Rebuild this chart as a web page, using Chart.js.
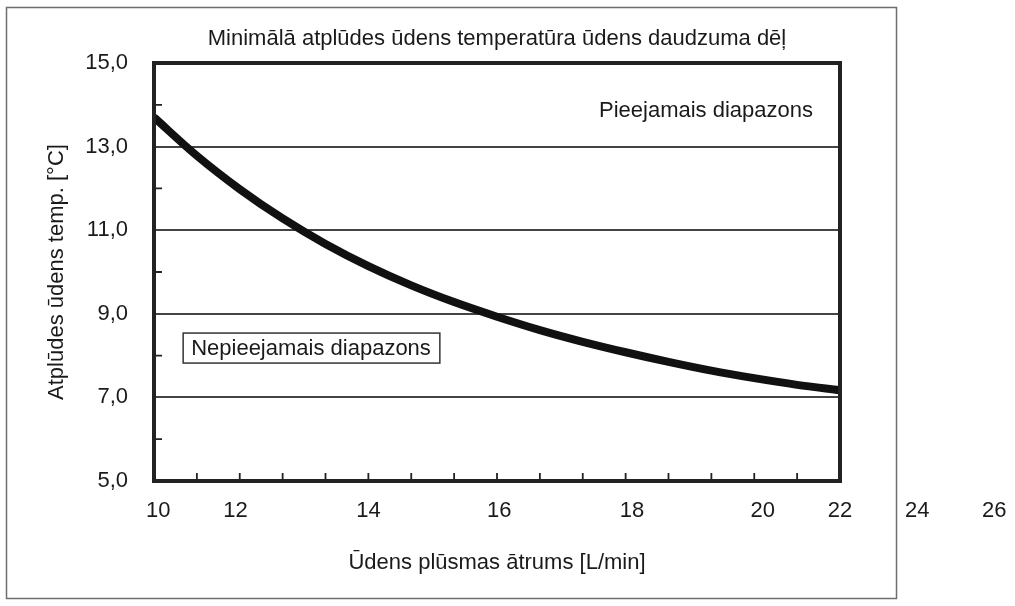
<!DOCTYPE html>
<html>
<head>
<meta charset="utf-8">
<title>Minimālā atplūdes ūdens temperatūra</title>
<script src="https://cdn.jsdelivr.net/npm/chart.js@4.4.0/dist/chart.umd.min.js"></script>
<style>
  html, body { margin: 0; padding: 0; background: #ffffff; }
  #wrap { width: 1015px; height: 606px; }
</style>
</head>
<body>
<div id="wrap"><canvas id="grafiks" width="1015" height="606"></canvas></div>
<script>
// ūdens plūsma [L/min] un minimālā atplūdes temperatūra [°C]
var plusma = [10, 11, 12, 13, 14, 15, 16, 17, 18, 19, 20, 21, 22, 23, 24, 25, 26];
var temperatura = [13.70, 12.78, 11.98, 11.28, 10.67, 10.14, 9.68, 9.28, 8.93, 8.61, 8.33, 8.08, 7.85, 7.64, 7.46, 7.30, 7.17];

// x ass: uzraksti un vietas uz ass (oriģinālā tie ir nobīdīti)
var xUzraksti = ['10', '12', '14', '16', '18', '20', '22', '24', '26'];
var xUzrakstuVietas = [10.1, 11.9, 15, 18.05, 21.15, 24.2, 26, 27.8, 29.6];
var xMazieTicki = [11, 12, 13, 14, 15, 16, 17, 18, 19, 20, 21, 22, 23, 24, 25];

// y ass
var yVertibas = [5, 7, 9, 11, 13, 15];
var yUzraksti = ['5,0', '7,0', '9,0', '11,0', '13,0', '15,0'];
var yMazieTicki = [6, 8, 10, 12, 14];

var fonts = '"Liberation Sans", Arial, Helvetica, sans-serif';
Chart.defaults.font.family = fonts;
Chart.defaults.font.size = 22;
Chart.defaults.color = '#1a1a1a';

// balts fons + pelēkais ārējais rāmis
var aresRamis = {
  id: 'aresRamis',
  beforeDraw: function(chart) {
    var ctx = chart.ctx;
    ctx.save();
    ctx.fillStyle = '#ffffff';
    ctx.fillRect(0, 0, chart.width, chart.height);
    ctx.strokeStyle = '#6e6e6e';
    ctx.lineWidth = 1.5;
    ctx.strokeRect(6.5, 7.5, 890, 591);
    ctx.restore();
  }
};

// biezais rāmis ap grafiku un mazie iekšējie ticki
var grafikaRamis = {
  id: 'grafikaRamis',
  afterDatasetsDraw: function(chart) {
    var ctx = chart.ctx;
    var a = chart.chartArea;
    var xs = chart.scales.x;
    var ys = chart.scales.y;
    ctx.save();
    ctx.strokeStyle = '#222222';
    ctx.lineWidth = 1.8;
    ctx.beginPath();
    xMazieTicki.forEach(function(v) {
      var px = xs.getPixelForValue(v);
      ctx.moveTo(px, a.bottom);
      ctx.lineTo(px, a.bottom - 8);
    });
    yMazieTicki.forEach(function(v) {
      var py = ys.getPixelForValue(v);
      ctx.moveTo(a.left, py);
      ctx.lineTo(a.left + 8, py);
    });
    ctx.stroke();
    ctx.lineWidth = 4;
    ctx.strokeRect(a.left, a.top, a.right - a.left, a.bottom - a.top);
    ctx.restore();
  }
};

// uzraksti "Pieejamais / Nepieejamais diapazons"
var diapazoni = {
  id: 'diapazoni',
  afterDraw: function(chart) {
    var ctx = chart.ctx;
    var xs = chart.scales.x;
    var ys = chart.scales.y;
    ctx.save();
    ctx.font = '22px ' + fonts;
    ctx.fillStyle = '#1a1a1a';
    ctx.textBaseline = 'middle';

    ctx.textAlign = 'right';
    ctx.fillText('Pieejamais diapazons', xs.getPixelForValue(25.37), ys.getPixelForValue(13.85));

    var teksts = 'Nepieejamais diapazons';
    var x0 = xs.getPixelForValue(10.68);
    var yc = ys.getPixelForValue(8.18);
    var w = ctx.measureText(teksts).width;
    ctx.fillStyle = '#ffffff';
    ctx.fillRect(x0, yc - 15, w + 17, 30);
    ctx.strokeStyle = '#333333';
    ctx.lineWidth = 1.5;
    ctx.strokeRect(x0, yc - 15, w + 17, 30);
    ctx.fillStyle = '#1a1a1a';
    ctx.textAlign = 'left';
    ctx.fillText(teksts, x0 + 8, yc + 1);
    ctx.restore();
  }
};

var dati = plusma.map(function(v, i) {
  return { x: v, y: temperatura[i] };
});

new Chart(document.getElementById('grafiks'), {
  type: 'line',
  data: {
    datasets: [{
      label: 'Minimālā temperatūra',
      data: dati,
      borderColor: '#111111',
      borderWidth: 8,
      pointRadius: 0,
      cubicInterpolationMode: 'monotone',
      fill: false
    }]
  },
  options: {
    responsive: false,
    animation: false,
    layout: { padding: { left: 0, right: 175, top: 0, bottom: 0 } },
    plugins: {
      legend: { display: false },
      tooltip: { enabled: false },
      title: {
        display: true,
        fullSize: false,
        text: 'Minimālā atplūdes ūdens temperatūra ūdens daudzuma dēļ',
        font: { size: 22, weight: 'normal' },
        color: '#1a1a1a',
        padding: { top: 26, bottom: 10.6 }
      }
    },
    scales: {
      x: {
        type: 'linear',
        min: 10,
        max: 26,
        grid: { display: false, drawTicks: false },
        border: { display: false },
        afterBuildTicks: function(scale) {
          scale.ticks = xUzrakstuVietas.map(function(v) { return { value: v }; });
        },
        afterFit: function(scale) {
          scale.height = 125;
          scale.paddingLeft = 0;
          scale.paddingRight = 0;
        },
        ticks: {
          autoSkip: false,
          maxRotation: 0,
          padding: 17,
          callback: function(value, index) { return xUzraksti[index]; }
        },
        title: {
          display: true,
          text: 'Ūdens plūsmas ātrums [L/min]',
          padding: { top: 0, bottom: 30 }
        }
      },
      y: {
        type: 'linear',
        min: 5,
        max: 15,
        grid: { color: '#444444', lineWidth: 2, drawTicks: false, tickLength: 0 },
        border: { display: false },
        afterBuildTicks: function(scale) {
          scale.ticks = yVertibas.map(function(v) { return { value: v }; });
        },
        afterFit: function(scale) {
          scale.width = 154;
        },
        ticks: {
          padding: 26,
          callback: function(value, index) { return yUzraksti[index]; }
        },
        title: {
          display: true,
          text: 'Atplūdes ūdens temp. [°C]',
          padding: { top: 44, bottom: 0 }
        }
      }
    }
  },
  plugins: [aresRamis, grafikaRamis, diapazoni]
});
</script>
</body>
</html>
